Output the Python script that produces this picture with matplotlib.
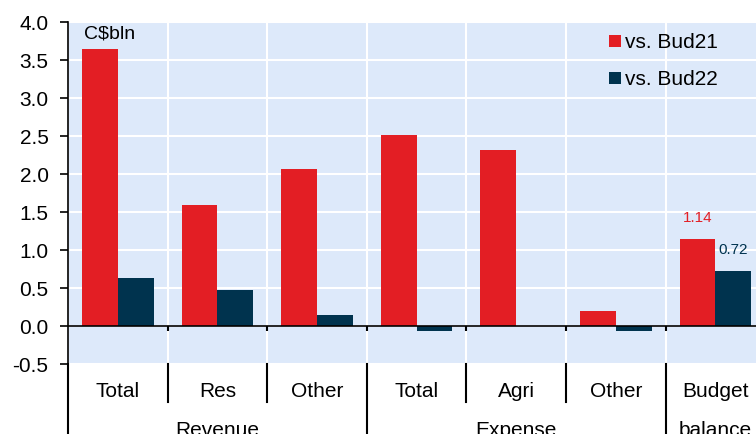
import matplotlib.pyplot as plt
import numpy as np
from matplotlib.transforms import blended_transform_factory

plt.rcParams['font.family'] = ['Liberation Sans', 'DejaVu Sans']

categories = ['Total', 'Res', 'Other', 'Total', 'Agri', 'Other', 'Budget']
groups = ['Revenue', 'Expense', 'balance']
group_spans = [(0, 3), (3, 6), (6, 7)]
bud21 = [3.65, 1.59, 2.06, 2.51, 2.31, 0.20, 1.14]
bud22 = [0.63, 0.47, 0.15, -0.07, 0.0, -0.07, 0.72]
series_names = ['vs. Bud21', 'vs. Bud22']
yticks = [-0.5, 0.0, 0.5, 1.0, 1.5, 2.0, 2.5, 3.0, 3.5, 4.0]

red = '#e31e24'
navy = '#00334e'
bg = '#dde9fa'

fig = plt.figure(figsize=(7.56, 4.34), dpi=100)
ax = fig.add_axes([68/756, 70/434, 7*99.6/756, 342/434])
ax.set_facecolor(bg)

x = np.arange(len(categories))
w = 0.36
ax.bar(x - w/2, bud21, w, color=red, label=series_names[0], zorder=3)
ax.bar(x + w/2, bud22, w, color=navy, label=series_names[1], zorder=3)

ax.set_xlim(-0.5, len(categories) - 0.5)
ax.set_ylim(-0.5, 4.0)
ax.set_yticks(yticks)
ax.set_yticklabels([f'{v:.1f}' for v in yticks], fontsize=15)
ax.tick_params(axis='y', length=6, width=1.2, direction='out', pad=8)
ax.set_xticks([])

# grid
for v in yticks:
    ax.axhline(v, color='white', lw=1.5, zorder=1)
for b in np.arange(len(categories) + 1) - 0.5:
    ax.axvline(b, color='white', lw=1.5, zorder=1)
ax.axhline(0, color='black', lw=1.2, zorder=4)

for s in ['top', 'right', 'bottom']:
    ax.spines[s].set_visible(False)
ax.spines['left'].set_linewidth(1.2)

# small ticks on zero line at category boundaries
bounds = np.arange(1, len(categories)) - 0.5
ax.vlines(bounds, -0.07, 0, color='black', lw=1.5, zorder=4)

# category axis separators below plot
tr = blended_transform_factory(ax.transData, ax.transAxes)
group_edges = [s for s, e in group_spans]
for b in np.arange(len(categories) + 1) - 0.5:
    if (b + 0.5) in group_edges or b == len(categories) - 0.5:
        y0 = -0.25
    else:
        y0 = -0.111
    ax.plot([b, b], [0, y0], color='black', lw=1.5, transform=tr, clip_on=False)

for i, c in enumerate(categories):
    ax.text(i, -0.08, c, transform=tr, ha='center', va='center', fontsize=15)
for g, (s, e) in zip(groups, group_spans):
    ax.text((s + e - 1) / 2, -0.195, g, transform=tr, ha='center', va='center', fontsize=15)

ax.text(0.023, 0.965, 'C$bln', transform=ax.transAxes, ha='left', va='center', fontsize=14)

ax.text(6 - w/2, bud21[6] + 0.28, f'{bud21[6]:.2f}', color=red, ha='center', va='center', fontsize=11)
ax.text(6 + w/2, bud22[6] + 0.28, f'{bud22[6]:.2f}', color=navy, ha='center', va='center', fontsize=11)

leg = ax.legend(loc='upper left', bbox_to_anchor=(0.76, 1.0), frameon=False, fontsize=15,
                handlelength=0.55, handleheight=0.55, handletextpad=0.2, labelspacing=0.85,
                borderaxespad=0.15)

fig.savefig('out.png', dpi=100)
